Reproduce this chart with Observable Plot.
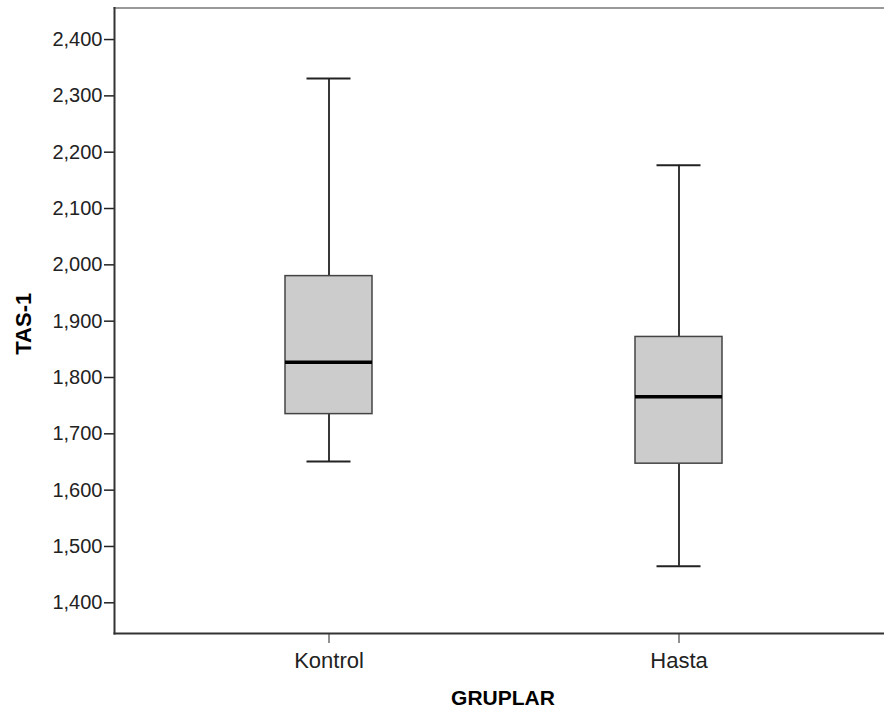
<!DOCTYPE html>
<html>
<head>
<meta charset="utf-8">
<script src="https://cdn.jsdelivr.net/npm/d3@7"></script>
<script src="https://cdn.jsdelivr.net/npm/@observablehq/plot@0.6"></script>
<style>
  html, body { margin: 0; padding: 0; background: #fff; }
  #chart svg { display: block; }
</style>
</head>
<body>
<div id="chart"></div>
<script>
const groups = ["Kontrol", "Hasta"];
const mins = [1651, 1465];
const q1s = [1735, 1647];
const medians = [1827, 1766];
const q3s = [1980, 1872];
const maxs = [2331, 2177];
const yTicks = [1400, 1500, 1600, 1700, 1800, 1900, 2000, 2100, 2200, 2300, 2400];

const data = groups.map((g, i) => ({
  group: g, min: mins[i], q1: q1s[i], median: medians[i], q3: q3s[i], max: maxs[i]
}));

const chart = Plot.plot({
  width: 884,
  height: 713,
  marginLeft: 114,
  marginRight: 0,
  marginTop: 7.5,
  marginBottom: 80,
  style: { fontFamily: "'Liberation Sans', Arial, sans-serif", color: "#222", background: "#fff" },
  x: { type: "band", domain: groups, range: [285, 722.7], paddingInner: 0.751, paddingOuter: 0, label: null },
  y: { domain: [1345.5, 2456], label: null },
  marks: [
    Plot.frame({ anchor: "top", stroke: "#999", strokeWidth: 2 }),
    Plot.ruleX(data, { x: "group", y1: "min", y2: "q1", stroke: "#222", strokeWidth: 1.8 }),
    Plot.ruleX(data, { x: "group", y1: "q3", y2: "max", stroke: "#222", strokeWidth: 1.8 }),
    Plot.tickY(data, { x: "group", y: "min", insetLeft: 21.5, insetRight: 21.5, stroke: "#222", strokeWidth: 2 }),
    Plot.tickY(data, { x: "group", y: "max", insetLeft: 21.5, insetRight: 21.5, stroke: "#222", strokeWidth: 2 }),
    Plot.barY(data, { x: "group", y1: "q1", y2: "q3", fill: "#cccccc", stroke: "#444", strokeWidth: 1.5 }),
    Plot.tickY(data, { x: "group", y: "median", stroke: "#000", strokeWidth: 3.5 }),
    Plot.axisY({ ticks: yTicks, tickFormat: d3.format(","), tickSize: 10, tickPadding: 2, fontSize: 20, label: null, stroke: "#222", strokeWidth: 1.5 }),
    Plot.axisX({ tickSize: 10, tickPadding: 9, fontSize: 22, label: null, stroke: "#222" }),
    Plot.frame({ anchor: "left", stroke: "#333", strokeWidth: 2 }),
    Plot.frame({ anchor: "bottom", stroke: "#333", strokeWidth: 2 }),
    Plot.text(["TAS-1"], { frameAnchor: "left", textAnchor: "middle", dx: -90.5, dy: 3, rotate: -90, fontWeight: "bold", fontSize: 22, fill: "#000" }),
    Plot.text(["GRUPLAR"], { frameAnchor: "bottom", textAnchor: "middle", dx: 3.5, dy: 71, fontWeight: "bold", fontSize: 21, fill: "#000" })
  ]
});

document.getElementById("chart").appendChild(chart);
</script>
</body>
</html>
